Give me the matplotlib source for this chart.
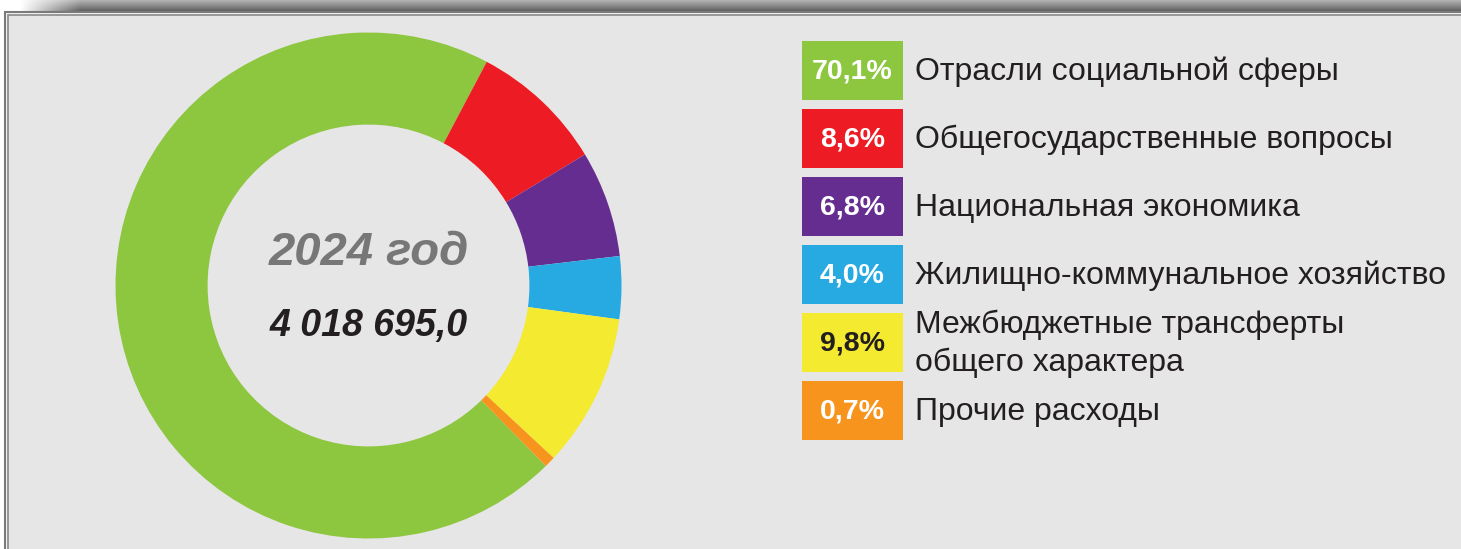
import numpy as np
import matplotlib.pyplot as plt
from matplotlib.patches import Rectangle

# data
categories = ['Отрасли социальной сферы', 'Общегосударственные вопросы',
              'Национальная экономика', 'Жилищно-коммунальное хозяйство',
              'Межбюджетные трансферты\nобщего характера', 'Прочие расходы']
shares = [70.1, 8.6, 6.8, 4.0, 9.8, 0.7]
share_labels = ['70,1%', '8,6%', '6,8%', '4,0%', '9,8%', '0,7%']
colors = ['#8dc63f', '#ed1c24', '#662d91', '#27aae1', '#f4ea2f', '#f7941d']
label_colors = ['white', 'white', 'white', 'white', '#231f20', 'white']
year_title = '2024 год'
total_value = '4 018 695,0'

W, H = 1461, 549
BG = '#e6e6e6'
fig = plt.figure(figsize=(W / 100, H / 100), dpi=100, facecolor='white')

# background axes in pixel coordinates
bg = fig.add_axes([0, 0, 1, 1])
bg.set_xlim(0, W)
bg.set_ylim(H, 0)
bg.axis('off')

# top shadow band
sh_h = 12
grad = np.zeros((sh_h, W, 4))
shade = np.linspace(0.70, 0.36, sh_h)[:, None]
grad[..., 0] = shade
grad[..., 1] = shade
grad[..., 2] = shade
fade = np.clip((np.arange(W) - 20) / 60.0, 0, 1)[None, :]
grad[..., 3] = fade * np.ones((sh_h, 1))
bg.imshow(grad, extent=[0, W, sh_h, 0], aspect='auto', interpolation='bilinear', zorder=1)

# panel with double border
bg.add_patch(Rectangle((4.5, 11.5), W, H, facecolor='#f4f4f4', edgecolor='#7a7a7a', lw=1.5, zorder=2))
bg.add_patch(Rectangle((8, 15), W, H, facecolor=BG, edgecolor='#8a8a8a', lw=1.2, zorder=3))

# donut
cx, cy, R = 368.5, 285.5, 253
ax = fig.add_axes([(cx - R) / W, (H - cy - R) / H, 2 * R / W, 2 * R / H])
ax.pie(shares, colors=colors, startangle=314.5, counterclock=False,
       wedgeprops=dict(width=0.364, linewidth=0))
ax.set_xlim(-1, 1)
ax.set_ylim(-1, 1)
ax.set_aspect('equal')
ax.axis('off')

ax.text(0, 0.13, year_title, ha='center', va='center', fontsize=34, fontweight='bold',
        fontstyle='italic', color='#777777', family='Liberation Sans')
ax.text(0, -0.16, total_value, ha='center', va='center', fontsize=27, fontweight='bold',
        fontstyle='italic', color='#231f20', family='Liberation Sans')

# legend
box_x, box_w, box_h, row_step, top0 = 802, 101, 59, 68, 41
for i, (lab, pct, c, tc) in enumerate(zip(categories, share_labels, colors, label_colors)):
    y0 = top0 + i * row_step
    bg.add_patch(Rectangle((box_x, y0), box_w, box_h, facecolor=c, edgecolor='none', zorder=4))
    bg.text(box_x + box_w / 2, y0 + box_h / 2 + 1, pct, ha='center', va='center',
            fontsize=20.5, fontweight='bold', color=tc, zorder=5, family='Liberation Sans')
    bg.text(915, y0 + box_h / 2 + 1.5, lab, ha='left', va='center', fontsize=23,
            color='#231f20', linespacing=1.33, zorder=5, family='Liberation Sans')

fig.savefig('out.png', dpi=100, facecolor='white')
